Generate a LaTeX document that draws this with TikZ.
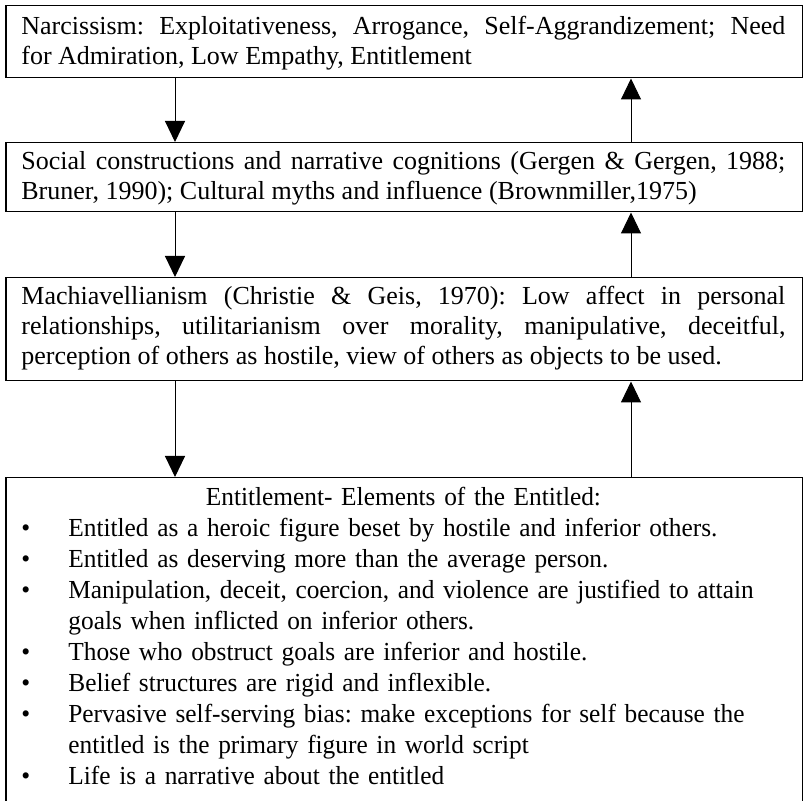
\documentclass[tikz,border=0pt]{standalone}
\usepackage{fontspec}
\setmainfont{Liberation Serif}
\newfontfamily\narrowserif{Liberation Serif}[FakeStretch=0.975]
\usetikzlibrary{arrows.meta}
\frenchspacing
\newcommand\entitem[1]{\par\noindent\hangindent=31.5pt\hangafter=1\makebox[31.5pt][l]{\hspace{8pt}\textbullet}#1}
\tikzset{
  box/.style={draw, line width=0.75pt, rectangle, minimum width=398.25pt, anchor=north west, inner sep=0pt},
  txt/.style={anchor=base west, inner sep=0pt, font=\fontsize{13}{15}\selectfont\frenchspacing},
  arr/.style={line width=0.5pt, -{Triangle[length=10.5pt,width=10pt]}}
}
\begin{document}
\begin{tikzpicture}[x=0.5pt,y=-0.5pt]
\clip (0,0) rectangle (803,801);
\fill[white] (0,0) rectangle (803,801);
\node[box, minimum height=36pt] (b1) at (5,5) {};
\node[box, minimum height=34.5pt] (b2) at (5,142) {};
\node[box, minimum height=51.5pt] (b3) at (5,277) {};
\node[box, minimum height=171.5pt] (b4) at (5,477) {};
\coordinate (xl) at (175,0);
\coordinate (xr) at (631,0);
\node[txt, text width=382pt, align=justify] (t1) at (21,35) {Narcissism: Exploitativeness, Arrogance, Self-Aggrandizement; Need\linebreak for Admiration, Low Empathy, Entitlement};
\node[txt, text width=382pt, align=justify] (t2) at (21,170) {Social constructions and narrative cognitions (Gergen \& Gergen, 1988;\linebreak Bruner, 1990); Cultural myths and influence (Brownmiller,1975)};
\node[txt, text width=382pt, align=justify] (t3) at (21,305) {Machiavellianism (Christie \& Geis, 1970): Low affect in personal\linebreak relationships, utilitarianism over morality, manipulative, deceitful,\linebreak perception of others as hostile, view of others as objects to be used.};
\node[txt, text width=398pt, align=left, font=\narrowserif\fontsize{13}{15.5}\selectfont\frenchspacing] (t4) at (5,506) {\noindent\makebox[398pt][c]{Entitlement- Elements of the Entitled:}
\entitem{Entitled as a heroic figure beset by hostile and inferior others.}
\entitem{Entitled as deserving more than the average person.}
\entitem{Manipulation, deceit, coercion, and violence are justified to attain\newline goals when inflicted on inferior others.}
\entitem{Those who obstruct goals are inferior and hostile.}
\entitem{Belief structures are rigid and inflexible.}
\entitem{Pervasive self-serving bias: make exceptions for self because the\newline entitled is the primary figure in world script}
\entitem{Life is a narrative about the entitled}\par};
\draw[arr] (b1.south -| xl) -- (b2.north -| xl);
\draw[arr] (b2.north -| xr) -- (b1.south -| xr);
\draw[arr] (b2.south -| xl) -- (b3.north -| xl);
\draw[arr] (b3.north -| xr) -- (b2.south -| xr);
\draw[arr] (b3.south -| xl) -- (b4.north -| xl);
\draw[arr] (b4.north -| xr) -- (b3.south -| xr);
\end{tikzpicture}
\end{document}
